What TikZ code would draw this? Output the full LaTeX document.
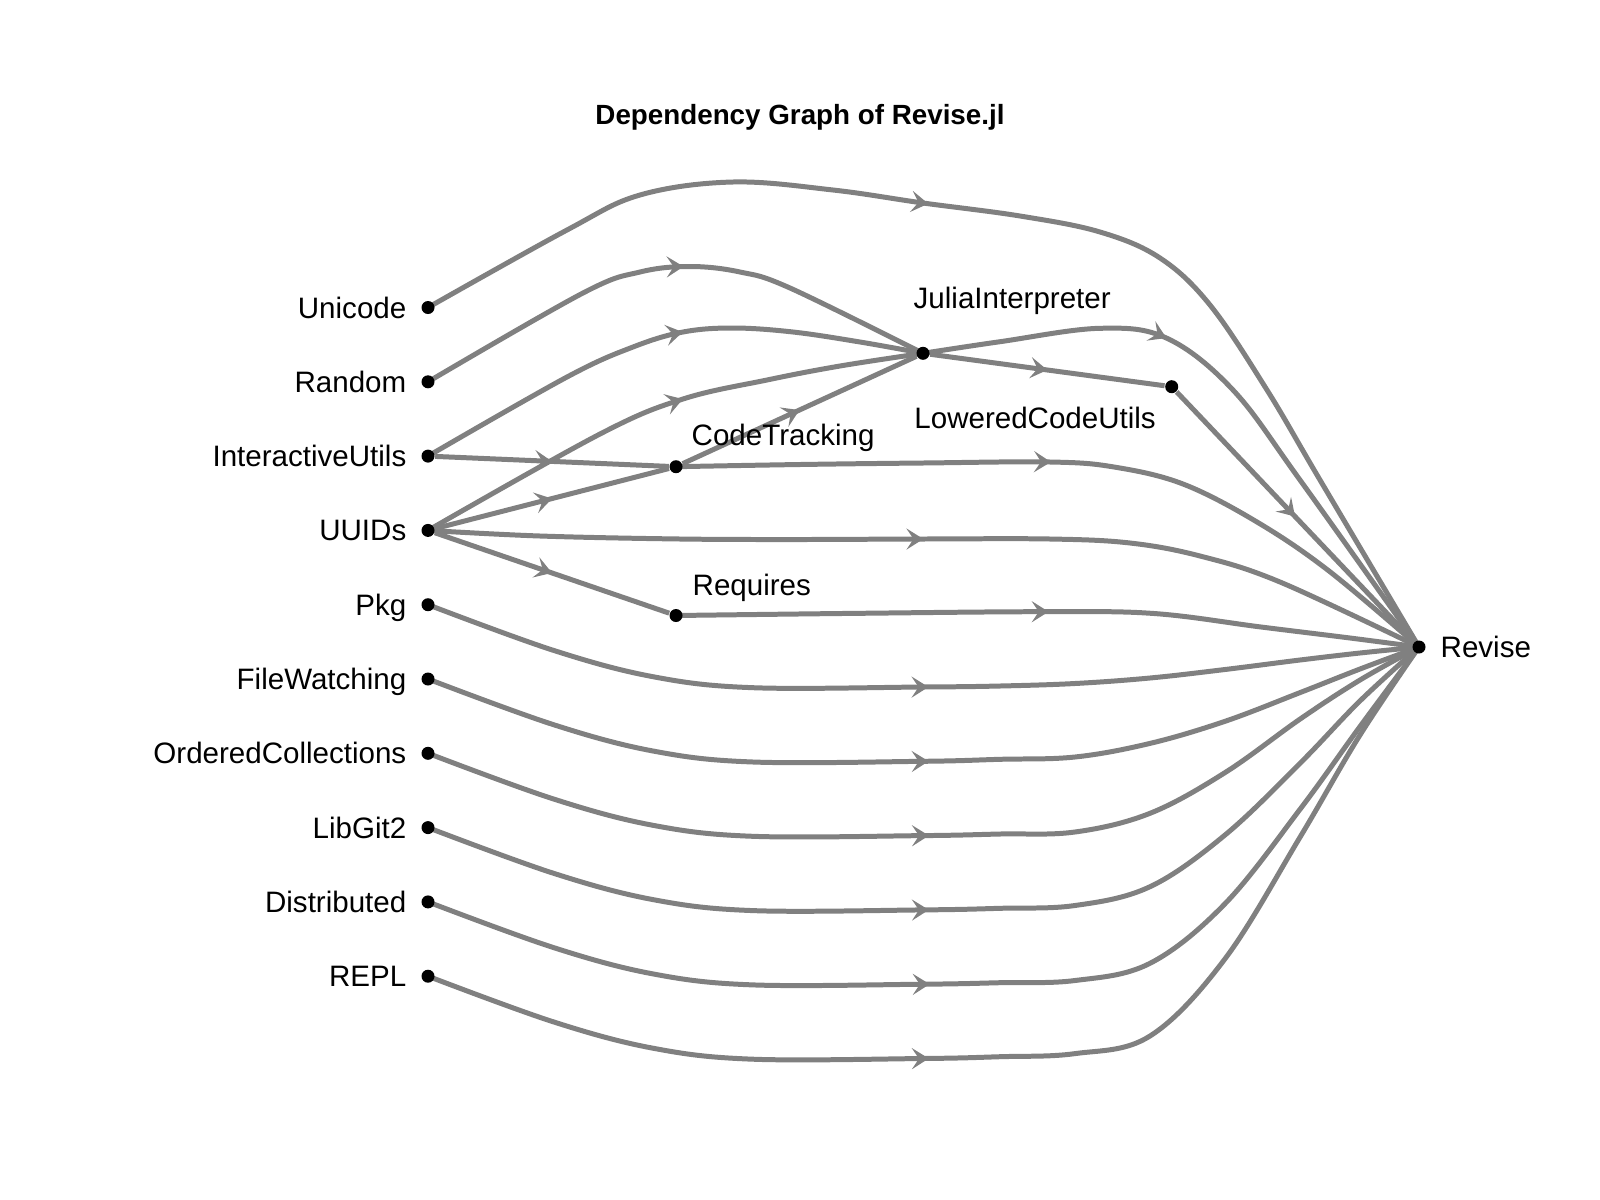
\documentclass[tikz,border=0pt]{standalone}
\usepackage{fontspec}
\setmainfont{Liberation Sans}
\usetikzlibrary{calc}
\usetikzlibrary{arrows.meta}
\usetikzlibrary{decorations.markings}
\usetikzlibrary{backgrounds}
\definecolor{depgray}{RGB}{128,128,128}
\tikzset{
  pkg/.style={circle,fill=black,inner sep=0pt,minimum size=1.3mm},
  pkglabel/.style={font=\fontsize{8.4}{10}\selectfont,inner sep=0pt,text height=6pt,text depth=0pt},
  dep/.style={draw=depgray,line width=1.42pt,line join=round,
    postaction={decorate,decoration={markings,
      mark=at position #1 with {\arrow{Stealth[length=4.8pt,width=6pt,inset=2pt,color=depgray]}}}}},
  dep/.default=0.5,
  hop/.style={smooth,tension=0.6}
}
\begin{document}
\begin{tikzpicture}[x=0.01cm,y=-0.01cm]
\useasboundingbox (0,0) rectangle (1600,1200);
\node[pkglabel,font=\bfseries\fontsize{7.9}{9}\selectfont,text height=5.7pt] (title) at (800,114) {Dependency Graph of Revise.jl};
\foreach \pname [count=\i from 0] in {Unicode,Random,InteractiveUtils,UUIDs,Pkg,FileWatching,OrderedCollections,LibGit2,Distributed,REPL}{
  \node[pkg] (\pname) at (428,{307.5+74.3*\i}) {};
  \node[pkglabel,anchor=east] (\pname-label) at ($(\pname)+(-21,0)$) {\pname};
}
\node[pkg] (CodeTracking) at (676,466.7) {};
\node[pkg] (Requires) at (676,615.5) {};
\node[pkg] (JuliaInterpreter) at (923,353.3) {};
\node[pkg] (LoweredCodeUtils) at (1171.7,386.7) {};
\node[pkg] (Revise) at (1419,647) {};
\node[pkglabel,anchor=west] (CodeTracking-label) at ($(CodeTracking)+(15,-32)$) {CodeTracking};
\node[pkglabel,anchor=west] (Requires-label) at ($(Requires)+(16,-31)$) {Requires};
\node[pkglabel,anchor=west] (JuliaInterpreter-label) at ($(JuliaInterpreter)+(-10,-55)$) {JuliaInterpreter};
\node[pkglabel,anchor=west] (LoweredCodeUtils-label) at ($(LoweredCodeUtils)+(-258,31.6)$) {LoweredCodeUtils};
\node[pkglabel,anchor=west] (Revise-label) at ($(Revise)+(21,0)$) {Revise};
\begin{scope}[on background layer]
\draw[dep] (InteractiveUtils) -- (CodeTracking);
\draw[dep] (UUIDs) -- (CodeTracking);
\draw[dep] (UUIDs) -- (Requires);
\draw[dep] (CodeTracking) -- (JuliaInterpreter);
\draw[dep] (JuliaInterpreter) -- (LoweredCodeUtils);
\draw[dep] (LoweredCodeUtils) -- (Revise);
\draw[dep=0.428] plot[hop] coordinates {(Unicode) (567,230) (640,195) (733,182) (833,190) (923,203) (1020,216) (1100,232) (1160,258) (1210,305) (1267,390) (1320,480) (Revise)};
\draw[dep=0.524] plot[hop] coordinates {(Random) (583,293) (640,272) (690,266.5) (740,272) (790,288) (JuliaInterpreter)};
\draw[dep=0.54] plot[hop] coordinates {(InteractiveUtils) (567,377) (633,347) (683,332) (733,328) (793,332) (860,342) (JuliaInterpreter)};
\draw[dep=0.54] plot[hop] coordinates {(UUIDs) (600,434) (683,399) (767,380) (840,366) (JuliaInterpreter)};
\draw[dep=0.49] plot[hop] coordinates {(UUIDs) (540,536) (680,539) (800,539.5) (923,539) (1050,539) (1130,543) (1200,556) (1280,582) (Revise)};
\draw[dep=0.47] plot[hop] coordinates {(CodeTracking) (800,464.5) (923,463) (1050,462) (1114,467) (1183,484) (1257,522) (1329,571) (Revise)};
\draw[dep=0.5] plot[hop] coordinates {(Requires) (860,613.3) (1044,611.7) (1154,613.5) (1261,627) (1350,638) (Revise)};
\draw[dep=0.38] plot[hop] coordinates {(JuliaInterpreter) (1000,341.7) (1100,328.3) (1167,338.3) (1233,390) (1300,480) (Revise)};
\draw[dep=0.51] plot[hop] coordinates {(Pkg) (553,650.2) (653,676.7) (753,687.7) (923,687) (1000,686) (1075,683.5) (1150,678) (1225,669.5) (1300,660) (1360,653) (Revise)};
\draw[dep=0.502] plot[hop] coordinates {(FileWatching) (553,724.5) (653,751) (753,762) (923,761.3) (1000,759.3) (1075,757) (1150,743.4) (1225,721.3) (1300,692.6) (1360,669) (Revise)};
\draw[dep=0.487] plot[hop] coordinates {(OrderedCollections) (553,798.8) (653,825.3) (753,836.3) (923,835.6) (1000,834) (1075,832) (1150,813.3) (1225,772.6) (1300,719.1) (1360,680) (Revise)};
\draw[dep=0.467] plot[hop] coordinates {(LibGit2) (553,873.1) (653,899.6) (753,910.6) (923,909.9) (1000,908.3) (1075,905.5) (1150,886.7) (1225,835) (1300,763.3) (1360,700.9) (Revise)};
\draw[dep=0.445] plot[hop] coordinates {(Distributed) (553,947.4) (653,973.9) (753,984.9) (923,984.2) (1000,982.7) (1075,980.5) (1150,963.3) (1225,903.7) (1300,809.3) (1360,726.5) (Revise)};
\draw[dep=0.423] plot[hop] coordinates {(REPL) (553,1021.7) (653,1048.2) (753,1059.2) (923,1058.5) (1000,1056.7) (1075,1053.6) (1150,1036) (1225,958.8) (1300,837.2) (1360,735) (Revise)};
\end{scope}
\end{tikzpicture}
\end{document}
